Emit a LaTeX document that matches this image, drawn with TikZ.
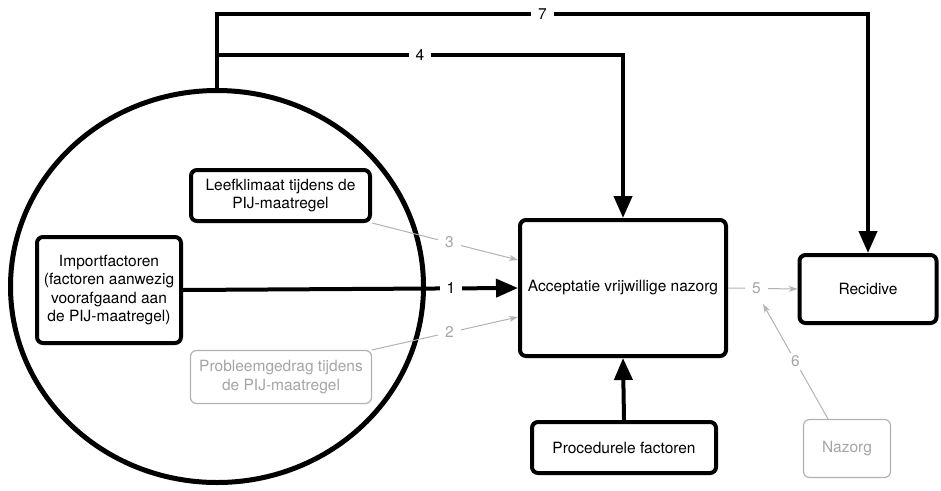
\documentclass[tikz,border=0pt]{standalone}
\usepackage{fontspec}
\setmainfont{TeX Gyre Heros}
\usetikzlibrary{positioning,shapes.geometric,arrows.meta,shadows}
\definecolor{linegrey}{RGB}{178,178,178}
\definecolor{txtgrey}{RGB}{165,165,165}
\tikzset{
  box/.style={draw, line width=4pt, rounded corners=6pt, fill=white, align=center,
    drop shadow={shadow xshift=1pt, shadow yshift=-2pt, opacity=0.25}},
  greybox/.style={draw=linegrey, line width=1.2pt, rounded corners=6pt, fill=white,
    align=center, text=txtgrey},
  heavy/.style={line width=4pt, -{Triangle[length=22pt,width=18pt]}},
  light/.style={draw=linegrey, line width=1pt, -{Stealth[length=9pt,width=6pt]}},
  num/.style={fill=white, inner xsep=7pt, inner ysep=3pt},
  greynum/.style={num, text=txtgrey},
}

\begin{document}
\begin{tikzpicture}[x=1pt,y=-1pt,font=\fontsize{15.5}{18.5}\selectfont]
\useasboundingbox (0,0) rectangle (941,490);

% the circle around the factors inside the PIJ
\node[ellipse, draw, line width=5pt, fill=white, inner sep=0pt,
      minimum width=413pt, minimum height=392pt,
      drop shadow={shadow xshift=1pt, shadow yshift=-2pt, opacity=0.25}] (circ) at (217,286.5) {};

\node[box, minimum width=144pt, minimum height=106pt] (imp) at (109,290)
  {Importfactoren\\(factoren aanwezig\\voorafgaand aan\\de PIJ-maatregel)};
\node[box, minimum width=179pt, minimum height=51pt] (leef) at (280.5,195.5)
  {Leefklimaat tijdens de\\PIJ-maatregel};
\node[greybox, minimum width=181pt, minimum height=53pt] (prob) at (281,377)
  {Probleemgedrag tijdens\\de PIJ-maatregel};

\node[box, minimum width=206pt, minimum height=136pt] (acc) at (623,288)
  {Acceptatie vrijwillige nazorg};
\node[box, minimum width=137pt, minimum height=68pt] (rec) at (868,289)
  {Recidive};
\node[box, minimum width=184pt, minimum height=51pt] (proc) at (624,447.5)
  {Procedurele factoren};
\node[greybox, minimum width=87pt, minimum height=58pt] (naz) at (847,448.5)
  {Nazorg};

\coordinate (top7) at (circ.north |- {(0,14)});
\coordinate (j4) at (circ.north |- {(0,55)});
\coordinate (m5) at (763,304);

% heavy paths
\draw[heavy] (circ.north) -- (top7) -| node[num, pos=0.25] {7} (rec.north);
\draw[heavy] (j4) -| node[num, pos=0.25] {4} (acc.north);
\draw[heavy] (imp.east) -- node[num, pos=0.8] {1} (acc.west);
\draw[heavy] (proc.north) -- (acc.south);

% light paths
\draw[light] (leef.south east) -- node[greynum, pos=0.53] {3} ([yshift=28pt]acc.west);
\draw[light] (prob.north east) -- node[greynum, pos=0.53] {2} ([yshift=-29pt]acc.west);
\draw[light] (acc.east) -- node[greynum, pos=0.41] {5} (rec.west);
\draw[light] ([xshift=-19pt]naz.north) -- node[greynum, pos=0.5] {6} (m5);
\end{tikzpicture}
\end{document}
